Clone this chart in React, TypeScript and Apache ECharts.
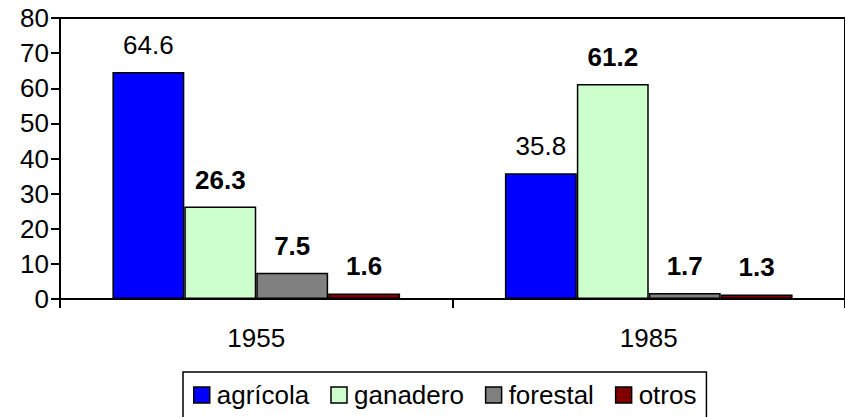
import React, { useEffect, useRef } from "react";
import * as echarts from "echarts";

const categories = ["1955", "1985"];
const seriesNames = ["agrícola", "ganadero", "forestal", "otros"];
const agricola = [64.6, 35.8];
const ganadero = [26.3, 61.2];
const forestal = [7.5, 1.7];
const otros = [1.6, 1.3];
const colors = ["#0000FF", "#CCFFCC", "#808080", "#800000"];
const labelWeights = ["normal", "bold", "bold", "bold"];

export default function App() {
  const ref = useRef<HTMLDivElement>(null);
  useEffect(() => {
    document.body.style.margin = "0";
    const chart = echarts.init(ref.current!, null, { renderer: "svg" });
    const values = [agricola, ganadero, forestal, otros];
    const font = "Liberation Sans";
    const fs = 26;
    chart.setOption({
      animation: false,
      textStyle: { fontFamily: font, fontSize: fs },
      grid: {
        left: 60,
        top: 18,
        width: 795,
        height: 281,
        show: true,
        borderColor: "#000",
        borderWidth: 2,
        backgroundColor: "transparent",
      },
      legend: {
        left: 183,
        top: 372,
        itemWidth: 16,
        itemHeight: 16,
        itemGap: 21,
        padding: [10, 10, 14, 10],
        borderColor: "#000",
        borderWidth: 1.5,
        icon: "rect",
        data: seriesNames,
        textStyle: { fontSize: fs, color: "#000", fontFamily: font, padding: [0, 0, 0, 2] },
        itemStyle: { borderColor: "#000", borderWidth: 1.5 },
      },
      xAxis: {
        type: "category",
        data: categories,
        axisLine: { lineStyle: { color: "#000", width: 2 } },
        axisTick: { show: true, length: 9, alignWithLabel: false, lineStyle: { color: "#000", width: 2 } },
        axisLabel: { fontSize: fs, color: "#000", margin: 26, fontFamily: font },
        splitLine: { show: false },
      },
      yAxis: {
        type: "value",
        min: 0,
        max: 80,
        interval: 10,
        axisLine: { show: true, lineStyle: { color: "#000", width: 2 } },
        axisTick: { show: true, length: 9, lineStyle: { color: "#000", width: 2 } },
        axisLabel: { fontSize: fs, color: "#000", margin: 11, fontFamily: font },
        splitLine: { show: false },
      },
      series: seriesNames.map((name, i) => ({
        name,
        type: "bar",
        data: values[i],
        barGap: "0%",
        barCategoryGap: "26.7%",
        itemStyle: { color: colors[i], borderColor: "#000", borderWidth: 1.5 },
        label: {
          show: true,
          position: "top",
          distance: 14,
          fontSize: fs,
          color: "#000",
          fontWeight: labelWeights[i],
          fontFamily: font,
        },
      })),
    });
    return () => chart.dispose();
  }, []);
  return <div ref={ref} style={{ width: 845, height: 417 }} />;
}
